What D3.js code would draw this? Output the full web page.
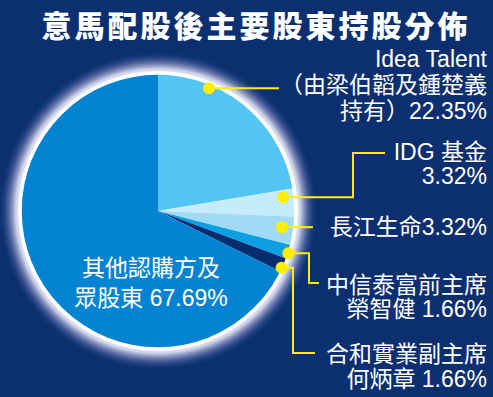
<!DOCTYPE html>
<html>
<head>
<meta charset="utf-8">
<script src="https://cdn.jsdelivr.net/npm/d3@7"></script>
<style>
  html, body { margin: 0; padding: 0; background: #0b2f6f; }
  svg { display: block; }
  .lbl { fill: #fff; font-family: "Liberation Sans", "Noto Sans CJK TC", sans-serif; font-size: 23px; }
</style>
</head>
<body>
<svg id="chart" width="493" height="397"></svg>
<script>
var title = "意馬配股後主要股東持股分佈";
var names = ["Idea Talent", "IDG 基金", "長江生命", "中信泰富前主席榮智健", "合和實業副主席何炳章", "其他認購方及眾股東"];
var values = [22.35, 3.32, 3.32, 1.66, 1.66, 67.69];
var colors = ["#52c5f5", "#c6ecfb", "#9fdbf5", "#0d9fe4", "#082c70", "#0383d1"];
var labelLines = [
    ["Idea Talent", "（由梁伯韜及鍾楚義", "持有）22.35%"],
    ["IDG 基金", "3.32%"],
    ["長江生命3.32%"],
    ["中信泰富前主席", "榮智健 1.66%"],
    ["合和實業副主席", "何炳章 1.66%"],
    ["其他認購方及", "眾股東 67.69%"]
];

var width = 493,
    height = 397,
    cx = 158,
    cy = 211,
    radius = 138;

var svg = d3.select("#chart");
var defs = svg.append("defs");

//glow behind the pie
var glow = defs.append("radialGradient")
    .attr("id", "glow")
    .attr("gradientUnits", "userSpaceOnUse")
    .attr("cx", cx).attr("cy", cy).attr("r", radius + 22);
glow.append("stop").attr("offset", 0.85).attr("stop-color", "#ffffff").attr("stop-opacity", 1);
glow.append("stop").attr("offset", 0.89).attr("stop-color", "#e2e2f4").attr("stop-opacity", 0.9);
glow.append("stop").attr("offset", 0.94).attr("stop-color", "#8088c2").attr("stop-opacity", 0.5);
glow.append("stop").attr("offset", 1).attr("stop-color", "#0b2f6f").attr("stop-opacity", 0);

svg.append("rect")
    .attr("width", width).attr("height", height)
    .attr("fill", "#0b2f6f");

svg.append("circle")
    .attr("cx", cx).attr("cy", cy).attr("r", radius + 22)
    .attr("fill", "url(#glow)");

//title
svg.append("text")
    .attr("x", 256).attr("y", 37)
    .attr("text-anchor", "middle")
    .attr("fill", "#fff")
    .style("font-family", "'Noto Sans CJK TC', sans-serif")
    .style("font-weight", 900)
    .style("font-size", "30px")
    .style("letter-spacing", "3px")
    .text(title);

//pie
var pie = d3.pie().sort(null).value(function (d) { return d; });
var arcs = pie(values);
var arc = d3.arc().innerRadius(0).outerRadius(radius);

var g = svg.append("g").attr("transform", "translate(" + cx + "," + cy + ")");

g.selectAll("path.slice")
    .data(arcs)
    .enter().append("path")
    .attr("class", "slice")
    .attr("d", arc)
    .attr("fill", function (d, i) { return colors[i]; });

g.append("circle")
    .attr("r", radius)
    .attr("fill", "none")
    .attr("stroke", "#fff")
    .attr("stroke-width", 3.5);

//leader dots: fraction through slice, distance from centre
var dotPos = [[0.28, 133], [0.27, 126], [0.42, 125], [0.6, 137], [0.73, 136]];
//leader elbows, relative to svg
var leaders = [
    [[279, null]],
    [[353, null], [353, 153], [385, 153]],
    [[313, null]],
    [[309, null], [309, 283], [319, 283]],
    [[293, null], [293, 353], [315, 353]]
];
var textPos = [[487, 67, 26], [487, 160, 24], [487, 235, 0], [487, 293, 24], [487, 362, 25]];

function dotXY(i) {
    var a = arcs[i].startAngle + dotPos[i][0] * (arcs[i].endAngle - arcs[i].startAngle);
    return [cx + dotPos[i][1] * Math.sin(a), cy - dotPos[i][1] * Math.cos(a)];
}

var line = d3.line();

for (var i = 0; i < 5; i++) {
    var p = dotXY(i);
    var pts = [p].concat(leaders[i].map(function (q) { return [q[0], q[1] === null ? p[1] : q[1]]; }));
    svg.append("path")
        .attr("d", line(pts))
        .attr("fill", "none")
        .attr("stroke", "#ffee00")
        .attr("stroke-width", 2);
    svg.append("circle")
        .attr("cx", p[0]).attr("cy", p[1]).attr("r", 6)
        .attr("fill", "#ffee00");

    var t = svg.append("text")
        .attr("class", "lbl")
        .attr("text-anchor", "end");
    labelLines[i].forEach(function (s, j) {
        t.append("tspan")
            .attr("x", textPos[i][0])
            .attr("y", textPos[i][1] + j * textPos[i][2])
            .text(s);
    });
}

//label inside the big slice
var inner = svg.append("text")
    .attr("class", "lbl")
    .attr("text-anchor", "middle");
labelLines[5].forEach(function (s, j) {
    inner.append("tspan")
        .attr("x", 151)
        .attr("y", 276 + j * 30)
        .text(s);
});
</script>
</body>
</html>
